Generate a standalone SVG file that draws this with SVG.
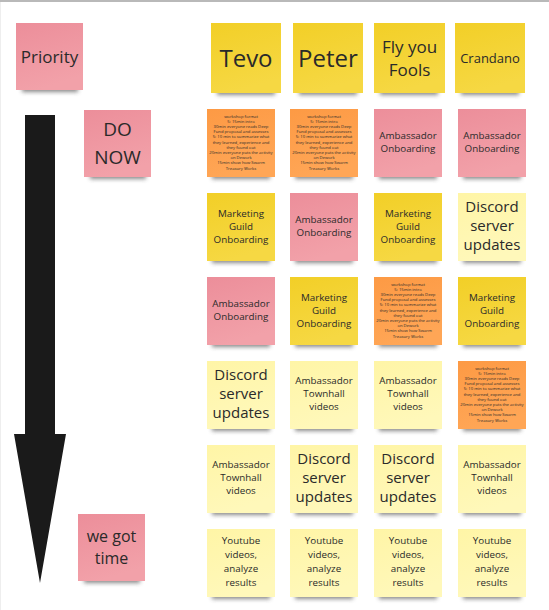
<svg xmlns="http://www.w3.org/2000/svg" width="549" height="610" viewBox="0 0 549 610">
<defs>
<linearGradient id="gY" x1="0" y1="0" x2="0.3" y2="1"><stop offset="0" stop-color="#F2CF27"/><stop offset="1" stop-color="#F6D843"/></linearGradient>
<linearGradient id="gL" x1="0" y1="0" x2="0.3" y2="1"><stop offset="0" stop-color="#FFF5A6"/><stop offset="1" stop-color="#FFF8BA"/></linearGradient>
<linearGradient id="gP" x1="0" y1="0" x2="0.3" y2="1"><stop offset="0" stop-color="#EC8E9A"/><stop offset="1" stop-color="#F2A1A9"/></linearGradient>
<linearGradient id="gO" x1="0" y1="0" x2="0.3" y2="1"><stop offset="0" stop-color="#FD9A44"/><stop offset="1" stop-color="#FFA656"/></linearGradient>
<filter id="blur" x="-20%" y="-100%" width="140%" height="300%"><feGaussianBlur stdDeviation="2.2"/></filter>
<style>
.sh{fill:#3a3a3a;opacity:0.6;filter:url(#blur)}
.y{fill:url(#gY)}.l{fill:url(#gL)}.p{fill:url(#gP)}.o{fill:url(#gO)}
text{font-family:"Open Sans","Noto Sans","Liberation Sans",sans-serif;fill:#2a2a2a;text-anchor:middle}
.s{font-size:9.8px}.m{font-size:15px}.t{font-size:4.2px}
</style>
</defs>
<rect x="0" y="0" width="549" height="610" fill="#ffffff"/>
<rect x="0" y="0" width="549" height="2" fill="#b9b9b9"/>
<rect x="0" y="2" width="1" height="608" fill="#eeeeee"/>

<g id="connectors">
<polygon id="arrow" points="25,115 55,115 55,434 66,434 40,583 14,434 25,434" fill="#1a1a1a"/>
</g>

<g id="priority"><rect class="sh" x="22" y="83" width="56" height="9"/><rect class="p" x="16" y="23" width="67" height="67"/><text x="49.5" y="63" font-size="17">Priority</text></g>
<g id="do-now"><rect class="sh" x="90" y="170" width="56" height="9"/><rect class="p" x="84" y="110" width="67" height="67"/><text x="117.5" y="136" font-size="19">DO</text><text x="117.5" y="164" font-size="19">NOW</text></g>
<g id="we-got-time"><rect class="sh" x="84" y="574" width="56" height="9"/><rect class="p" x="78" y="514" width="67" height="67"/><text x="111.5" y="542" font-size="16">we got</text><text x="111.5" y="564" font-size="16">time</text></g>

<g id="tevo"><rect class="sh" x="217" y="86" width="58" height="9"/><rect class="y" x="211" y="23" width="70" height="70"/><text x="246" y="67" font-size="24">Tevo</text></g>
<g id="peter"><rect class="sh" x="299" y="86" width="58" height="9"/><rect class="y" x="293" y="23" width="70" height="70"/><text x="328" y="67" font-size="24">Peter</text></g>
<g id="fly"><rect class="sh" x="380" y="86" width="58" height="9"/><rect class="y" x="374" y="23" width="71" height="70"/><text x="409.5" y="53" font-size="17">Fly you</text><text x="409.5" y="76" font-size="17">Fools</text></g>
<g id="crandano"><rect class="sh" x="461" y="86" width="58" height="9"/><rect class="y" x="455" y="23" width="70" height="70"/><text x="490" y="63" font-size="13">Crandano</text></g>

<!-- row 2 y=109 -->
<g id="r2c1"><rect class="sh" x="212" y="170" width="58" height="9"/><rect class="o" x="207" y="109" width="68" height="68"/>
<text class="t"><tspan x="241" y="117.5">workshop format</tspan><tspan x="241" dy="5.2">5: 15min intro</tspan><tspan x="241" dy="5.2">30min everyone reads Deep</tspan><tspan x="241" dy="5.2">Fund proposal and assesses</tspan><tspan x="241" dy="5.2">5: 10 min to summarize what</tspan><tspan x="241" dy="5.2">they learned, experience and</tspan><tspan x="241" dy="5.2">they found out</tspan><tspan x="241" dy="5.2">20min everyone puts the activity</tspan><tspan x="241" dy="5.2">on Dework</tspan><tspan x="241" dy="5.2">15min show how Swarm</tspan><tspan x="241" dy="5.2">Treasury Works</tspan></text></g>
<g id="r2c2"><rect class="sh" x="295" y="170" width="58" height="9"/><rect class="o" x="290" y="109" width="68" height="68"/>
<text class="t"><tspan x="324" y="117.5">workshop format</tspan><tspan x="324" dy="5.2">5: 15min intro</tspan><tspan x="324" dy="5.2">30min everyone reads Deep</tspan><tspan x="324" dy="5.2">Fund proposal and assesses</tspan><tspan x="324" dy="5.2">5: 10 min to summarize what</tspan><tspan x="324" dy="5.2">they learned, experience and</tspan><tspan x="324" dy="5.2">they found out</tspan><tspan x="324" dy="5.2">20min everyone puts the activity</tspan><tspan x="324" dy="5.2">on Dework</tspan><tspan x="324" dy="5.2">15min show how Swarm</tspan><tspan x="324" dy="5.2">Treasury Works</tspan></text></g>
<g id="r2c3"><rect class="sh" x="379" y="170" width="58" height="9"/><rect class="p" x="374" y="109" width="68" height="68"/><text class="s"><tspan x="408" y="139">Ambassador</tspan><tspan x="408" y="152">Onboarding</tspan></text></g>
<g id="r2c4"><rect class="sh" x="463" y="170" width="58" height="9"/><rect class="p" x="458" y="109" width="68" height="68"/><text class="s"><tspan x="492" y="139">Ambassador</tspan><tspan x="492" y="152">Onboarding</tspan></text></g>

<!-- row 3 y=193 -->
<g id="r3c1"><rect class="sh" x="212" y="254" width="58" height="9"/><rect class="y" x="207" y="193" width="68" height="68"/><text class="s"><tspan x="241" y="217">Marketing</tspan><tspan x="241" y="230">Guild</tspan><tspan x="241" y="243">Onboarding</tspan></text></g>
<g id="r3c2"><rect class="sh" x="295" y="254" width="58" height="9"/><rect class="p" x="290" y="193" width="68" height="68"/><text class="s"><tspan x="324" y="223">Ambassador</tspan><tspan x="324" y="236">Onboarding</tspan></text></g>
<g id="r3c3"><rect class="sh" x="379" y="254" width="58" height="9"/><rect class="y" x="374" y="193" width="68" height="68"/><text class="s"><tspan x="408" y="217">Marketing</tspan><tspan x="408" y="230">Guild</tspan><tspan x="408" y="243">Onboarding</tspan></text></g>
<g id="r3c4"><rect class="sh" x="463" y="254" width="58" height="9"/><rect class="l" x="458" y="193" width="68" height="68"/><text class="m"><tspan x="492" y="212">Discord</tspan><tspan x="492" y="231">server</tspan><tspan x="492" y="250">updates</tspan></text></g>

<!-- row 4 y=277 -->
<g id="r4c1"><rect class="sh" x="212" y="338" width="58" height="9"/><rect class="p" x="207" y="277" width="68" height="68"/><text class="s"><tspan x="241" y="307">Ambassador</tspan><tspan x="241" y="320">Onboarding</tspan></text></g>
<g id="r4c2"><rect class="sh" x="295" y="338" width="58" height="9"/><rect class="y" x="290" y="277" width="68" height="68"/><text class="s"><tspan x="324" y="301">Marketing</tspan><tspan x="324" y="314">Guild</tspan><tspan x="324" y="327">Onboarding</tspan></text></g>
<g id="r4c3"><rect class="sh" x="379" y="338" width="58" height="9"/><rect class="o" x="374" y="277" width="68" height="68"/>
<text class="t"><tspan x="408" y="285.5">workshop format</tspan><tspan x="408" dy="5.2">5: 15min intro</tspan><tspan x="408" dy="5.2">30min everyone reads Deep</tspan><tspan x="408" dy="5.2">Fund proposal and assesses</tspan><tspan x="408" dy="5.2">5: 10 min to summarize what</tspan><tspan x="408" dy="5.2">they learned, experience and</tspan><tspan x="408" dy="5.2">they found out</tspan><tspan x="408" dy="5.2">20min everyone puts the activity</tspan><tspan x="408" dy="5.2">on Dework</tspan><tspan x="408" dy="5.2">15min show how Swarm</tspan><tspan x="408" dy="5.2">Treasury Works</tspan></text></g>
<g id="r4c4"><rect class="sh" x="463" y="338" width="58" height="9"/><rect class="y" x="458" y="277" width="68" height="68"/><text class="s"><tspan x="492" y="301">Marketing</tspan><tspan x="492" y="314">Guild</tspan><tspan x="492" y="327">Onboarding</tspan></text></g>

<!-- row 5 y=361 -->
<g id="r5c1"><rect class="sh" x="212" y="422" width="58" height="9"/><rect class="l" x="207" y="361" width="68" height="68"/><text class="m"><tspan x="241" y="380">Discord</tspan><tspan x="241" y="399">server</tspan><tspan x="241" y="418">updates</tspan></text></g>
<g id="r5c2"><rect class="sh" x="295" y="422" width="58" height="9"/><rect class="l" x="290" y="361" width="68" height="68"/><text class="s"><tspan x="324" y="384">Ambassador</tspan><tspan x="324" y="397">Townhall</tspan><tspan x="324" y="410">videos</tspan></text></g>
<g id="r5c3"><rect class="sh" x="379" y="422" width="58" height="9"/><rect class="l" x="374" y="361" width="68" height="68"/><text class="s"><tspan x="408" y="384">Ambassador</tspan><tspan x="408" y="397">Townhall</tspan><tspan x="408" y="410">videos</tspan></text></g>
<g id="r5c4"><rect class="sh" x="463" y="422" width="58" height="9"/><rect class="o" x="458" y="361" width="68" height="68"/>
<text class="t"><tspan x="492" y="369.5">workshop format</tspan><tspan x="492" dy="5.2">5: 15min intro</tspan><tspan x="492" dy="5.2">30min everyone reads Deep</tspan><tspan x="492" dy="5.2">Fund proposal and assesses</tspan><tspan x="492" dy="5.2">5: 10 min to summarize what</tspan><tspan x="492" dy="5.2">they learned, experience and</tspan><tspan x="492" dy="5.2">they found out</tspan><tspan x="492" dy="5.2">20min everyone puts the activity</tspan><tspan x="492" dy="5.2">on Dework</tspan><tspan x="492" dy="5.2">15min show how Swarm</tspan><tspan x="492" dy="5.2">Treasury Works</tspan></text></g>

<!-- row 6 y=445 -->
<g id="r6c1"><rect class="sh" x="212" y="506" width="58" height="9"/><rect class="l" x="207" y="445" width="68" height="68"/><text class="s"><tspan x="241" y="468">Ambassador</tspan><tspan x="241" y="481">Townhall</tspan><tspan x="241" y="494">videos</tspan></text></g>
<g id="r6c2"><rect class="sh" x="295" y="506" width="58" height="9"/><rect class="l" x="290" y="445" width="68" height="68"/><text class="m"><tspan x="324" y="464">Discord</tspan><tspan x="324" y="483">server</tspan><tspan x="324" y="502">updates</tspan></text></g>
<g id="r6c3"><rect class="sh" x="379" y="506" width="58" height="9"/><rect class="l" x="374" y="445" width="68" height="68"/><text class="m"><tspan x="408" y="464">Discord</tspan><tspan x="408" y="483">server</tspan><tspan x="408" y="502">updates</tspan></text></g>
<g id="r6c4"><rect class="sh" x="463" y="506" width="58" height="9"/><rect class="l" x="458" y="445" width="68" height="68"/><text class="s"><tspan x="492" y="468">Ambassador</tspan><tspan x="492" y="481">Townhall</tspan><tspan x="492" y="494">videos</tspan></text></g>

<!-- row 7 y=529 -->
<g id="r7c1"><rect class="sh" x="212" y="590" width="58" height="9"/><rect class="l" x="207" y="529" width="68" height="68"/><text class="s"><tspan x="241" y="544">Youtube</tspan><tspan x="241" y="558">videos,</tspan><tspan x="241" y="572">analyze</tspan><tspan x="241" y="586">results</tspan></text></g>
<g id="r7c2"><rect class="sh" x="295" y="590" width="58" height="9"/><rect class="l" x="290" y="529" width="68" height="68"/><text class="s"><tspan x="324" y="544">Youtube</tspan><tspan x="324" y="558">videos,</tspan><tspan x="324" y="572">analyze</tspan><tspan x="324" y="586">results</tspan></text></g>
<g id="r7c3"><rect class="sh" x="379" y="590" width="58" height="9"/><rect class="l" x="374" y="529" width="68" height="68"/><text class="s"><tspan x="408" y="544">Youtube</tspan><tspan x="408" y="558">videos,</tspan><tspan x="408" y="572">analyze</tspan><tspan x="408" y="586">results</tspan></text></g>
<g id="r7c4"><rect class="sh" x="463" y="590" width="58" height="9"/><rect class="l" x="458" y="529" width="68" height="68"/><text class="s"><tspan x="492" y="544">Youtube</tspan><tspan x="492" y="558">videos,</tspan><tspan x="492" y="572">analyze</tspan><tspan x="492" y="586">results</tspan></text></g>
</svg>
